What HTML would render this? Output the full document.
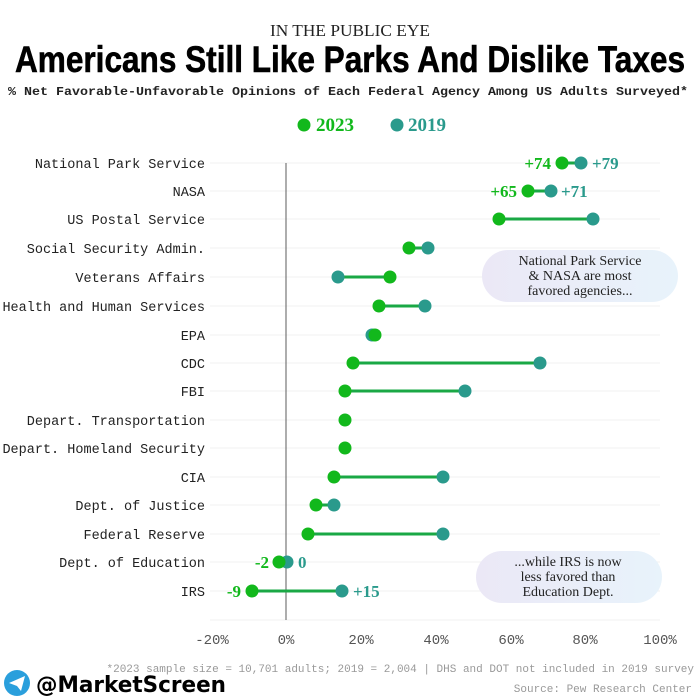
<!DOCTYPE html><html><head><meta charset="utf-8"><style>body{margin:0;background:#fff}svg{display:block}</style></head><body>
<svg width="700" height="700" xmlns="http://www.w3.org/2000/svg">
<defs><linearGradient id="bub" x1="0" x2="1"><stop offset="0" stop-color="#ebe8f6"/><stop offset="1" stop-color="#e8f3fb"/></linearGradient></defs>
<text x="350" y="36" text-anchor="middle" font-family="Liberation Serif" font-size="17" fill="#222" textLength="160" lengthAdjust="spacingAndGlyphs">IN THE PUBLIC EYE</text>
<text x="350" y="72" text-anchor="middle" font-family="Liberation Sans" font-weight="bold" font-size="37" fill="#000" stroke="#000" stroke-width="0.6" textLength="670" lengthAdjust="spacingAndGlyphs">Americans Still Like Parks And Dislike Taxes</text>
<text x="348" y="95" text-anchor="middle" font-family="Liberation Mono" font-weight="bold" font-size="12" fill="#222" textLength="680" lengthAdjust="spacingAndGlyphs">% Net Favorable-Unfavorable Opinions of Each Federal Agency Among US Adults Surveyed*</text>
<circle cx="304" cy="125" r="6.5" fill="#12b81c"/><text x="316" y="131" font-family="Liberation Serif" font-weight="bold" font-size="19" fill="#12b81c">2023</text>
<circle cx="397" cy="125" r="6.5" fill="#2a9a8c"/><text x="408" y="131" font-family="Liberation Serif" font-weight="bold" font-size="19" fill="#2a9a8c">2019</text>
<g stroke="#f0f0f0" stroke-width="1">
<line x1="210" x2="660" y1="163" y2="163"/><line x1="210" x2="660" y1="191" y2="191"/><line x1="210" x2="660" y1="219" y2="219"/><line x1="210" x2="660" y1="248" y2="248"/><line x1="210" x2="660" y1="277" y2="277"/><line x1="210" x2="660" y1="306" y2="306"/><line x1="210" x2="660" y1="335" y2="335"/><line x1="210" x2="660" y1="363" y2="363"/><line x1="210" x2="660" y1="391" y2="391"/><line x1="210" x2="660" y1="420" y2="420"/><line x1="210" x2="660" y1="448" y2="448"/><line x1="210" x2="660" y1="477" y2="477"/><line x1="210" x2="660" y1="505" y2="505"/><line x1="210" x2="660" y1="534" y2="534"/><line x1="210" x2="660" y1="562" y2="562"/><line x1="210" x2="660" y1="591" y2="591"/><line x1="210" x2="660" y1="620" y2="620"/></g>
<line x1="286" x2="286" y1="163" y2="620" stroke="#777" stroke-width="1.2"/>
<rect x="482" y="250" width="196" height="52" rx="26" fill="url(#bub)"/>
<text font-family="Liberation Serif" font-size="14" fill="#222" text-anchor="middle"><tspan x="580" y="265">National Park Service</tspan><tspan x="580" y="280">&amp; NASA are most</tspan><tspan x="580" y="295">favored agencies...</tspan></text>
<rect x="476" y="551" width="186" height="52" rx="26" fill="url(#bub)"/>
<text font-family="Liberation Serif" font-size="14" fill="#222" text-anchor="middle"><tspan x="568" y="566">...while IRS is now</tspan><tspan x="568" y="581">less favored than</tspan><tspan x="568" y="596">Education Dept.</tspan></text>
<g font-family="Liberation Mono" font-size="13.5" fill="#222" text-anchor="end">
<text x="205" y="168">National Park Service</text><text x="205" y="196">NASA</text><text x="205" y="224">US Postal Service</text><text x="205" y="253">Social Security Admin.</text><text x="205" y="282">Veterans Affairs</text><text x="205" y="311">Health and Human Services</text><text x="205" y="340">EPA</text><text x="205" y="368">CDC</text><text x="205" y="396">FBI</text><text x="205" y="425">Depart. Transportation</text><text x="205" y="453">Depart. Homeland Security</text><text x="205" y="482">CIA</text><text x="205" y="510">Dept. of Justice</text><text x="205" y="539">Federal Reserve</text><text x="205" y="567">Dept. of Education</text><text x="205" y="596">IRS</text></g>
<g stroke="#1aa845" stroke-width="3">
<line x1="562" x2="581" y1="163" y2="163"/><line x1="528" x2="551" y1="191" y2="191"/><line x1="499" x2="593" y1="219" y2="219"/><line x1="409" x2="428" y1="248" y2="248"/><line x1="338" x2="390" y1="277" y2="277"/><line x1="379" x2="425" y1="306" y2="306"/><line x1="353" x2="540" y1="363" y2="363"/><line x1="345" x2="465" y1="391" y2="391"/><line x1="334" x2="443" y1="477" y2="477"/><line x1="316" x2="334" y1="505" y2="505"/><line x1="308" x2="443" y1="534" y2="534"/><line x1="252" x2="342" y1="591" y2="591"/></g>
<g fill="#2a9a8c">
<circle cx="581" cy="163" r="6.5"/><circle cx="551" cy="191" r="6.5"/><circle cx="593" cy="219" r="6.5"/><circle cx="428" cy="248" r="6.5"/><circle cx="338" cy="277" r="6.5"/><circle cx="425" cy="306" r="6.5"/><circle cx="372" cy="335" r="6.5"/><circle cx="540" cy="363" r="6.5"/><circle cx="465" cy="391" r="6.5"/><circle cx="443" cy="477" r="6.5"/><circle cx="334" cy="505" r="6.5"/><circle cx="443" cy="534" r="6.5"/><circle cx="287" cy="562" r="6.5"/><circle cx="342" cy="591" r="6.5"/></g>
<g fill="#12b81c">
<circle cx="562" cy="163" r="6.5"/><circle cx="528" cy="191" r="6.5"/><circle cx="499" cy="219" r="6.5"/><circle cx="409" cy="248" r="6.5"/><circle cx="390" cy="277" r="6.5"/><circle cx="379" cy="306" r="6.5"/><circle cx="375" cy="335" r="6.5"/><circle cx="353" cy="363" r="6.5"/><circle cx="345" cy="391" r="6.5"/><circle cx="345" cy="420" r="6.5"/><circle cx="345" cy="448" r="6.5"/><circle cx="334" cy="477" r="6.5"/><circle cx="316" cy="505" r="6.5"/><circle cx="308" cy="534" r="6.5"/><circle cx="279" cy="562" r="6.5"/><circle cx="252" cy="591" r="6.5"/></g>
<g font-family="Liberation Serif" font-weight="bold" font-size="17">
<text x="551" y="169" fill="#12b81c" text-anchor="end">+74</text><text x="592" y="169" fill="#2a9a8c">+79</text>
<text x="517" y="197" fill="#12b81c" text-anchor="end">+65</text><text x="561" y="197" fill="#2a9a8c">+71</text>
<text x="269" y="568" fill="#12b81c" text-anchor="end">-2</text><text x="298" y="568" fill="#2a9a8c">0</text>
<text x="241" y="597" fill="#12b81c" text-anchor="end">-9</text><text x="353" y="597" fill="#2a9a8c">+15</text></g>
<g font-family="Liberation Mono" font-size="14" fill="#555" text-anchor="middle">
<text x="212" y="644">-20%</text><text x="286" y="644">0%</text><text x="361" y="644">20%</text><text x="436" y="644">40%</text><text x="511" y="644">60%</text><text x="585" y="644">80%</text><text x="660" y="644">100%</text></g>
<text x="694" y="672" text-anchor="end" font-family="Liberation Mono" font-size="11" fill="#999">*2023 sample size = 10,701 adults; 2019 = 2,004 | DHS and DOT not included in 2019 survey</text>
<text x="692" y="692" text-anchor="end" font-family="Liberation Mono" font-size="11" fill="#999">Source: Pew Research Center</text>
<circle cx="17" cy="683" r="13" fill="#2a9fdc"/><path d="M9 683 L25 676 L21 691 L17 686 Z" fill="#fff"/>
<text x="36" y="692" font-family="DejaVu Sans" font-weight="bold" font-size="22" fill="#000" textLength="190" lengthAdjust="spacingAndGlyphs">@MarketScreen</text>
</svg></body></html>
